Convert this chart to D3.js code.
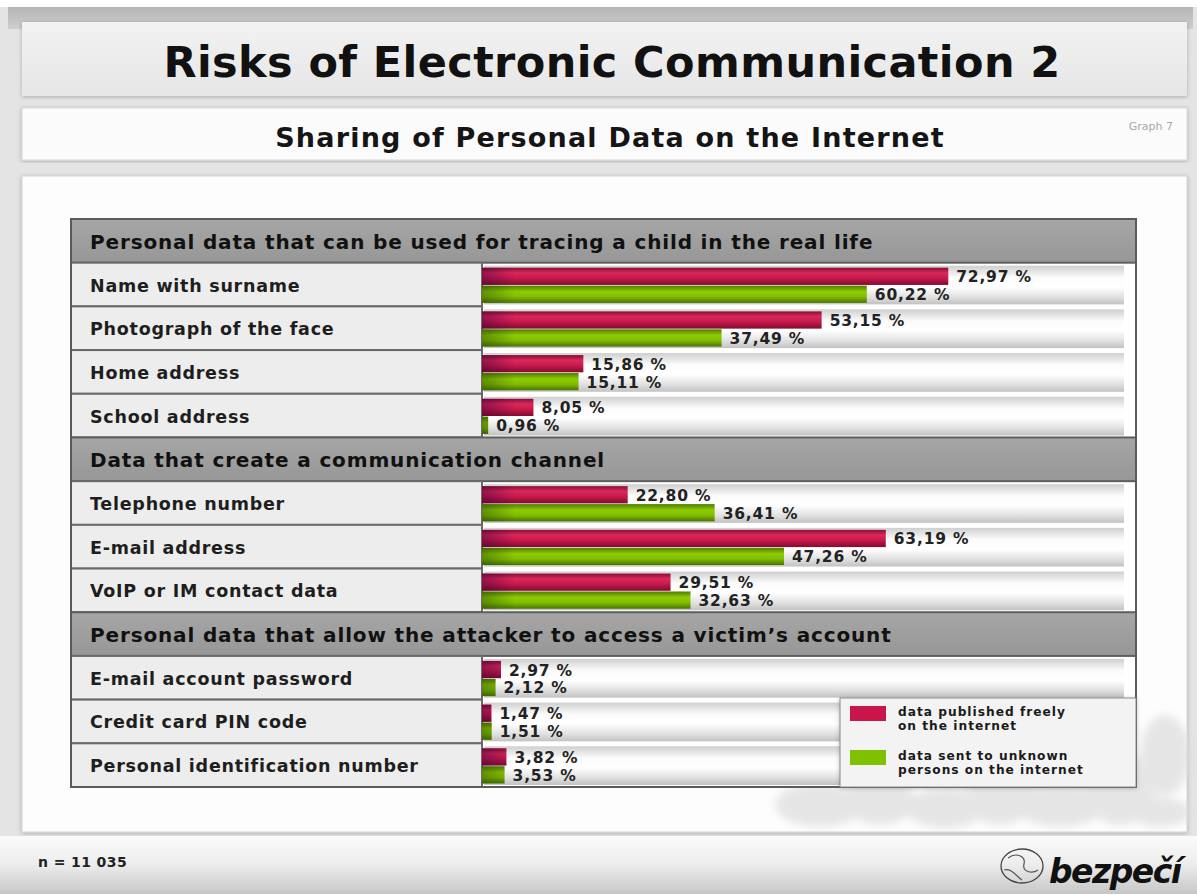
<!DOCTYPE html>
<html>
<head>
<meta charset="utf-8">
<script src="https://cdn.jsdelivr.net/npm/d3@7"></script>
<style>
  html, body { margin: 0; padding: 0; background: #ffffff; }
  svg { display: block; }
  text { font-family: "DejaVu Sans", Verdana, sans-serif; }
</style>
</head>
<body>
<svg id="chart" width="1197" height="894"></svg>
<script>
// ---- data ----
const title = "Risks of Electronic Communication 2";
const subtitle = "Sharing of Personal Data on the Internet";
const graphTag = "Graph 7";
const sampleNote = "n = 11 035";
const sections = [
  "Personal data that can be used for tracing a child in the real life",
  "Data that create a communication channel",
  "Personal data that allow the attacker to access a victim’s account"
];
const sectionItems = [
  ["Name with surname", "Photograph of the face", "Home address", "School address"],
  ["Telephone number", "E-mail address", "VoIP or IM contact data"],
  ["E-mail account password", "Credit card PIN code", "Personal identification number"]
];
const publishedFreely = [72.97, 53.15, 15.86, 8.05, 22.80, 63.19, 29.51, 2.97, 1.47, 3.82];
const sentToUnknown  = [60.22, 37.49, 15.11, 0.96, 36.41, 47.26, 32.63, 2.12, 1.51, 3.53];
const seriesNames = ["data published freely\non the internet", "data sent to unknown\npersons on the internet"];
const seriesKeys = ["pub", "sent"];

// ---- build row list (section headers interleaved with items) ----
const rows = [];
let k = 0;
sections.forEach((s, si) => {
  rows.push({ type: "header", label: s });
  sectionItems[si].forEach(name => {
    rows.push({ type: "item", label: name, pub: publishedFreely[k], sent: sentToUnknown[k] });
    k++;
  });
});

const svg = d3.select("#chart");
const defs = svg.append("defs");

function vGrad(id, stops) {
  const g = defs.append("linearGradient").attr("id", id)
    .attr("x1", 0).attr("y1", 0).attr("x2", 0).attr("y2", 1);
  stops.forEach(([o, c, a]) => g.append("stop").attr("offset", o).attr("stop-color", c).attr("stop-opacity", a == null ? 1 : a));
}
vGrad("gRed", [[0, "#8c0c35"], [0.3, "#d9285a"], [0.6, "#c81a4c"], [1, "#820a30"]]);
vGrad("gGreen", [[0, "#4f7d00"], [0.35, "#8fcb05"], [0.65, "#80bd00"], [1, "#4a7400"]]);
vGrad("gTrack", [[0, "#cfcfcf"], [0.3, "#fbfbfb"], [0.55, "#ffffff"], [0.8, "#e2e2e2"], [1, "#c2c2c2"]]);
vGrad("gTitle", [[0, "#f2f2f2"], [1, "#e6e6e6"]]);
vGrad("gTopBand", [[0, "#b4b4b4"], [1, "#cfcfcf"]]);
vGrad("gBottom", [[0, "#fbfbfb"], [0.5, "#ececec"], [1, "#c6c6c6"]]);
vGrad("gHeader", [[0, "#a6a6a6"], [1, "#979797"]]);
// darker shading at the left end of every bar
function hShade(id, colour, op) {
  const g = defs.append("linearGradient").attr("id", id)
    .attr("gradientUnits", "userSpaceOnUse").attr("x1", 482).attr("x2", 515).attr("y1", 0).attr("y2", 0);
  g.append("stop").attr("offset", 0).attr("stop-color", colour).attr("stop-opacity", op);
  g.append("stop").attr("offset", 1).attr("stop-color", colour).attr("stop-opacity", 0);
}
hShade("sRed", "#40003a", 0.45);
hShade("sGreen", "#2a4a00", 0.45);
defs.append("filter").attr("id", "soft").append("feGaussianBlur").attr("stdDeviation", 4);
const sh = defs.append("filter").attr("id", "shadow").attr("x", "-5%").attr("y", "-5%").attr("width", "110%").attr("height", "110%");
sh.append("feDropShadow").attr("dx", 0).attr("dy", 1).attr("stdDeviation", 2).attr("flood-color", "#000").attr("flood-opacity", 0.25);

// ---- page background and panels ----
svg.append("rect").attr("x", 0).attr("y", 0).attr("width", 1197).attr("height", 894).attr("fill", "#e4e4e4");
svg.append("rect").attr("x", 0).attr("y", 0).attr("width", 1197).attr("height", 7).attr("fill", "#ffffff");
svg.append("rect").attr("x", 8).attr("y", 7).attr("width", 1185).attr("height", 22).attr("fill", "url(#gTopBand)");
svg.append("rect").attr("x", 22).attr("y", 22).attr("width", 1165).attr("height", 74).attr("fill", "url(#gTitle)")
  .attr("filter", "url(#shadow)");
svg.append("rect").attr("x", 22).attr("y", 108).attr("width", 1165).attr("height", 52).attr("fill", "#fbfbfb")
  .attr("stroke", "#d6d6d6").attr("filter", "url(#shadow)");
svg.append("rect").attr("x", 22).attr("y", 176).attr("width", 1165).attr("height", 656).attr("fill", "#fdfdfd")
  .attr("stroke", "#d2d2d2").attr("filter", "url(#shadow)");
svg.append("rect").attr("x", 0).attr("y", 836).attr("width", 1197).attr("height", 58).attr("fill", "url(#gBottom)");

// faint illustration behind the legend
const ghost = svg.append("g").attr("filter", "url(#soft)").attr("fill", "#dcdcdc").attr("opacity", 0.7);
[[820, 805, 45, 22], [880, 800, 35, 25], [945, 808, 40, 20], [1000, 795, 35, 30], [1060, 805, 45, 22],
 [1120, 790, 35, 35], [1165, 755, 25, 40], [1160, 812, 30, 15]].forEach(([cx, cy, rx, ry]) => {
  ghost.append("ellipse").attr("cx", cx).attr("cy", cy).attr("rx", rx).attr("ry", ry);
});

// ---- titles ----
svg.append("text").attr("x", 612).attr("y", 62).attr("text-anchor", "middle").attr("dominant-baseline", "central")
  .attr("font-size", 43).attr("font-weight", "bold").attr("letter-spacing", 0.4).attr("fill", "#111").text(title);
svg.append("text").attr("x", 610).attr("y", 137).attr("text-anchor", "middle").attr("dominant-baseline", "central")
  .attr("font-size", 27).attr("font-weight", "bold").attr("letter-spacing", 1.2).attr("fill", "#151515").text(subtitle);
svg.append("text").attr("x", 1173).attr("y", 126).attr("text-anchor", "end").attr("dominant-baseline", "central")
  .attr("font-size", 11).attr("fill", "#a8a8a8").text(graphTag);

// ---- table ----
const tLeft = 71, tRight = 1136, tTop = 219, tBottom = 787, labelCol = 482, trackRight = 1124;
const y = d3.scaleBand().domain(d3.range(rows.length)).range([tTop, tBottom]);
const x = d3.scaleLinear().domain([0, 100]).range([labelCol, 1121]);
const inner = d3.scaleBand().domain(seriesKeys).paddingInner(0.04);
const colour = { pub: "url(#gRed)", sent: "url(#gGreen)" };
const shading = { pub: "url(#sRed)", sent: "url(#sGreen)" };
const fmt = v => d3.format(".2f")(v).replace(".", ",") + " %";

const table = svg.append("g");
table.append("rect").attr("x", tLeft).attr("y", tTop).attr("width", tRight - tLeft).attr("height", tBottom - tTop)
  .attr("fill", "#ffffff");

const rowG = table.selectAll("g.row").data(rows).join("g").attr("class", "row")
  .attr("transform", (d, i) => `translate(0,${y(i)})`);
const h = y.bandwidth();

// section headers
rowG.filter(d => d.type === "header").each(function(d) {
  const g = d3.select(this);
  g.append("rect").attr("x", tLeft).attr("y", 0).attr("width", tRight - tLeft).attr("height", h)
    .attr("fill", "url(#gHeader)").attr("stroke", "#5e5e5e").attr("stroke-width", 2);
  g.append("text").attr("x", 90).attr("y", h / 2 + 1).attr("dominant-baseline", "central")
    .attr("font-size", 20).attr("font-weight", "bold").attr("letter-spacing", 0.85).attr("fill", "#111").text(d.label);
});

// item rows
rowG.filter(d => d.type === "item").each(function(d) {
  const g = d3.select(this);
  g.append("rect").attr("x", tLeft).attr("y", 0).attr("width", labelCol - tLeft).attr("height", h)
    .attr("fill", "#ededed").attr("stroke", "#6a6a6a").attr("stroke-width", 2);
  g.append("text").attr("x", 90).attr("y", h / 2 + 1).attr("dominant-baseline", "central")
    .attr("font-size", 17.5).attr("font-weight", "bold").attr("letter-spacing", 0.75).attr("fill", "#1e1e1e").text(d.label);
  g.append("rect").attr("x", labelCol + 2).attr("y", 3).attr("width", trackRight - labelCol - 2).attr("height", h - 5)
    .attr("fill", "url(#gTrack)");
  inner.range([5, h - 3.5]);
  seriesKeys.forEach(key => {
    const w = x(d[key]) - x(0);
    g.append("rect").attr("x", x(0)).attr("y", inner(key)).attr("width", w).attr("height", inner.bandwidth())
      .attr("fill", colour[key]);
    g.append("rect").attr("x", x(0)).attr("y", inner(key)).attr("width", w).attr("height", inner.bandwidth())
      .attr("fill", shading[key]);
    g.append("text").attr("x", Math.max(x(d[key]), x(0) + 2) + 8).attr("y", inner(key) + inner.bandwidth() / 2 + 1)
      .attr("dominant-baseline", "central").attr("font-size", 15.5).attr("font-weight", "bold")
      .attr("letter-spacing", 0.8).attr("fill", "#222").text(fmt(d[key]));
  });
});

// outer border of the table
table.append("rect").attr("x", tLeft).attr("y", tTop).attr("width", tRight - tLeft).attr("height", tBottom - tTop)
  .attr("fill", "none").attr("stroke", "#5a5a5a").attr("stroke-width", 2);

// ---- legend ----
const lg = svg.append("g").attr("transform", "translate(840,698)");
lg.append("rect").attr("width", 296).attr("height", 89).attr("fill", "#f3f3f3").attr("stroke", "#8a8a8a")
  .attr("filter", "url(#shadow)");
seriesKeys.forEach((key, i) => {
  const gy = 8 + i * 44;
  lg.append("rect").attr("x", 10).attr("y", gy).attr("width", 36).attr("height", 15)
    .attr("fill", key === "pub" ? "#c8164a" : "#7fc000");
  seriesNames[i].split("\n").forEach((line, j) => {
    lg.append("text").attr("x", 58).attr("y", gy + 6 + j * 14).attr("dominant-baseline", "central")
      .attr("font-size", 12.2).attr("font-weight", "bold").attr("letter-spacing", 1.0).attr("fill", "#1a1a1a").text(line);
  });
});

// ---- footer ----
svg.append("text").attr("x", 38).attr("y", 862).attr("dominant-baseline", "central")
  .attr("font-size", 14).attr("font-weight", "bold").attr("letter-spacing", 0.4).attr("fill", "#222").text(sampleNote);
const logo = svg.append("g").attr("transform", "translate(1022,866)");
logo.append("ellipse").attr("rx", 21).attr("ry", 17).attr("fill", "none").attr("stroke", "#444").attr("stroke-width", 1.3);
logo.append("path").attr("d", "M-14,-8 C-6,-14 4,-10 2,-2 C0,6 10,8 16,4 M-18,4 C-10,2 -6,10 0,14")
  .attr("fill", "none").attr("stroke", "#555").attr("stroke-width", 1.2);
svg.append("text").attr("x", 1049).attr("y", 883).attr("font-size", 33).attr("font-weight", "bold")
  .attr("font-style", "italic").attr("font-family", "'Liberation Sans', Arial, sans-serif")
  .attr("letter-spacing", -1.5).attr("fill", "#111").text("bezpečí");
</script>
</body>
</html>
